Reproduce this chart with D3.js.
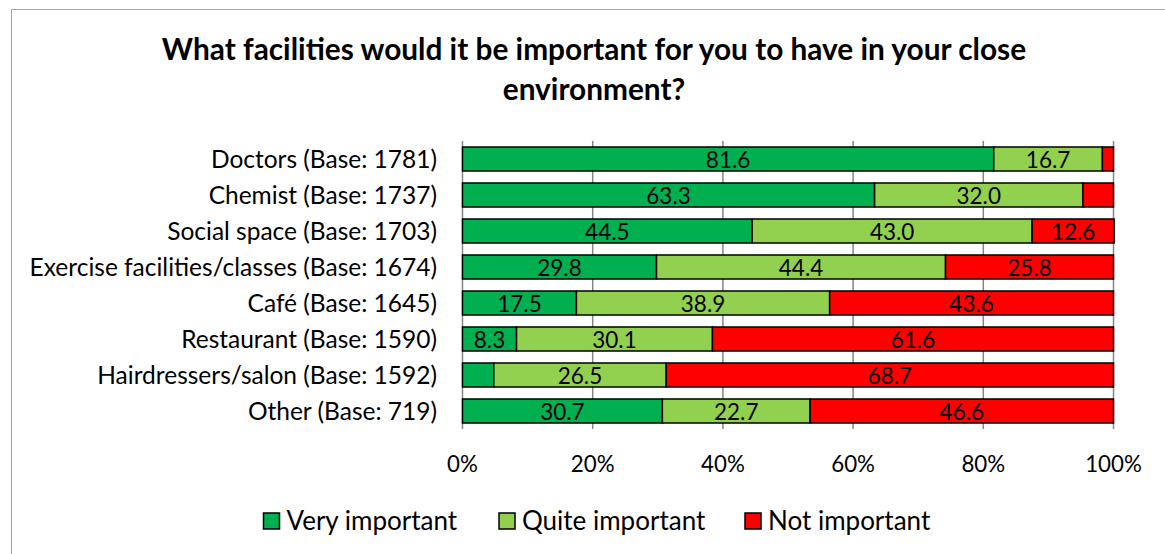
<!DOCTYPE html>
<html><head><meta charset="utf-8">
<script src="https://cdn.jsdelivr.net/npm/d3@7"></script>
<style>body{margin:0;background:#fff}svg{display:block}text{font-family:Lato,"Open Sans",sans-serif}</style>
</head><body>
<svg id="chart" width="1165" height="554"></svg>
<script>
const categories = ["Doctors (Base: 1781)","Chemist (Base: 1737)","Social space (Base: 1703)","Exercise facilities/classes (Base: 1674)","Café (Base: 1645)","Restaurant (Base: 1590)","Hairdressers/salon (Base: 1592)","Other (Base: 719)"];
const seriesNames = ["Very important","Quite important","Not important"];
const veryImportant = [81.6,63.3,44.5,29.8,17.5,8.3,4.8,30.7];
const quiteImportant = [16.7,32.0,43.0,44.4,38.9,30.1,26.5,22.7];
const notImportant = [1.7,4.7,12.6,25.8,43.6,61.6,68.7,46.6];
const tickValues = [0,20,40,60,80,100];
const tickLabels = ["0%","20%","40%","60%","80%","100%"];
const colors = ["#00B050","#92D050","#FF0000"];
const titleLines = ["What facilities would it be important for you to have in your close","environment?"];

const svg = d3.select("#chart");
// outer frame
svg.append("rect").attr("x",11.5).attr("y",9.5).attr("width",1165).attr("height",560)
  .attr("fill","none").attr("stroke","#a6a6a6").attr("stroke-width",1);

svg.append("g").selectAll("text").data(titleLines).join("text")
  .attr("x",594).attr("y",(d,i)=>60+i*40).attr("text-anchor","middle")
  .attr("font-size",29.8).attr("font-weight","bold").attr("fill","#000").text(d=>d);

const x = d3.scaleLinear().domain([0,100]).range([462.5,1113.5]);
const y = d3.scaleBand().domain(categories).range([141,429]).paddingInner(0.333).paddingOuter(0.1665);

// gridlines
svg.append("g").selectAll("line").data(tickValues).join("line")
  .attr("x1",d=>x(d)).attr("x2",d=>x(d)).attr("y1",141).attr("y2",429)
  .attr("stroke","#868686").attr("stroke-width",1.5);

const series = [veryImportant,quiteImportant,notImportant];
const rows = categories.map((c,i)=>({cat:c, v:series.map(s=>s[i])}));
const stackData = rows.map(r=>{let acc=0; return r.v.map((v,k)=>{const s={cat:r.cat,k,v,x0:acc,x1:acc+v}; acc+=v; return s;});}).flat();

svg.append("g").selectAll("rect").data(stackData).join("rect")
  .attr("x",d=>x(d.x0)).attr("width",d=>x(d.x1)-x(d.x0))
  .attr("y",d=>y(d.cat)).attr("height",y.bandwidth())
  .attr("fill",d=>colors[d.k]).attr("stroke","#000").attr("stroke-width",1.5);

svg.append("g").selectAll("text").data(stackData.filter(d=>d.v>=5)).join("text")
  .attr("x",d=>x((d.x0+d.x1)/2)).attr("y",d=>y(d.cat)+y.bandwidth()/2+8.5)
  .attr("text-anchor","middle").attr("font-size",22.5).attr("fill","#000")
  .text(d=>d3.format(".1f")(d.v));

// category labels
svg.append("g").selectAll("text").data(categories).join("text")
  .attr("x",437).attr("y",d=>y(d)+y.bandwidth()/2+9).attr("text-anchor","end")
  .attr("font-size",24.5).attr("fill","#000").text(d=>d);

// tick labels
svg.append("g").selectAll("text").data(tickValues).join("text")
  .attr("x",d=>x(d)).attr("y",472).attr("text-anchor","middle")
  .attr("font-size",22.3).attr("fill","#000").text((d,i)=>tickLabels[i]);

// legend
const legX = [263.5,499,745];
const lg = svg.append("g").selectAll("g").data(seriesNames).join("g")
  .attr("transform",(d,i)=>`translate(${legX[i]},513)`);
lg.append("rect").attr("width",16).attr("height",16).attr("fill",(d,i)=>colors[i]).attr("stroke","#000").attr("stroke-width",1.5);
lg.append("text").attr("x",23).attr("y",16.5).attr("font-size",26).attr("fill","#000").text(d=>d);
</script>
</body></html>
